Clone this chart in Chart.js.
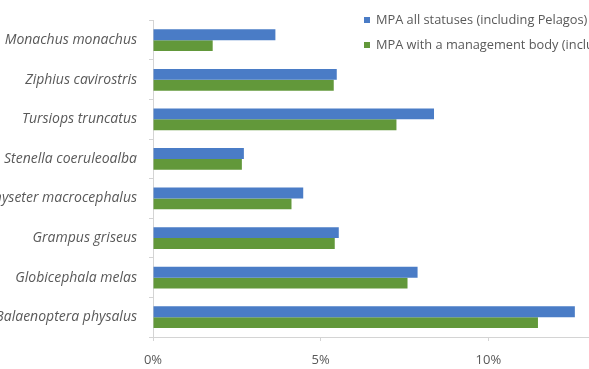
<!DOCTYPE html>
<html>
<head>
<meta charset="utf-8">
<script src="https://cdn.jsdelivr.net/npm/chart.js@4/dist/chart.umd.min.js"></script>
<style>
    html, body { margin: 0; padding: 0; background: #fff; overflow: hidden; }
    #wrap { position: relative; width: 589px; height: 369px; overflow: hidden; }
    canvas { position: absolute; left: 0; top: 0; }
</style>
</head>
<body>
<div id="wrap">
    <canvas id="mpaChart" width="700" height="369"></canvas>
</div>
<script>
// species, top to bottom
const species = [
    'Monachus monachus',
    'Ziphius cavirostris',
    'Tursiops truncatus',
    'Stenella coeruleoalba',
    'Physeter macrocephalus',
    'Grampus griseus',
    'Globicephala melas',
    'Balaenoptera physalus'
];
// share of range covered, in %
const allStatuses = [3.65, 5.48, 8.38, 2.71, 4.48, 5.54, 7.89, 12.58];
const withManagement = [1.78, 5.39, 7.26, 2.65, 4.13, 5.42, 7.59, 11.48];
const seriesNames = [
    'MPA all statuses (including Pelagos)',
    'MPA with a management body (including Pelagos)'
];
const xTicks = [0, 5, 10, 15];

const BLUE = '#4a7cc6';
const GREEN = '#62983a';
const TEXT = '#595959';
const AXIS = '#d4d4d4';
const FONT = '"Open Sans", sans-serif';

// legend sits inside the plot, top right, and runs off the picture
const legendInPlot = {
    id: 'legendInPlot',
    afterDraw(chart) {
        const ctx = chart.ctx;
        ctx.save();
        ctx.font = '12.8px ' + FONT;
        ctx.textBaseline = 'middle';
        chart.data.datasets.forEach((ds, i) => {
            const y = 20 + i * 25;
            ctx.fillStyle = ds.backgroundColor;
            ctx.fillRect(364, y - 3, 6, 6);
            ctx.fillStyle = TEXT;
            ctx.fillText(ds.label, 376, y);
        });
        ctx.restore();
    }
};

new Chart(document.querySelector('#mpaChart'), {
    type: 'bar',
    data: {
        labels: species,
        datasets: [
            {
                label: seriesNames[0],
                data: allStatuses,
                backgroundColor: BLUE,
                categoryPercentage: 0.55,
                barPercentage: 1
            },
            {
                label: seriesNames[1],
                data: withManagement,
                backgroundColor: GREEN,
                categoryPercentage: 0.55,
                barPercentage: 1
            }
        ]
    },
    options: {
        indexAxis: 'y',
        responsive: false,
        animation: false,
        layout: { padding: { top: 14, right: 44, bottom: 0, left: 0 } },
        plugins: {
            legend: { display: false },
            tooltip: { enabled: false }
        },
        scales: {
            x: {
                min: 0,
                max: 15,
                afterBuildTicks: scale => {
                    scale.ticks = xTicks.map(v => ({ value: v }));
                },
                afterFit: scale => { scale.height = 32; },
                border: { color: AXIS },
                grid: {
                    drawOnChartArea: false,
                    color: AXIS,
                    tickLength: 4
                },
                ticks: {
                    color: TEXT,
                    padding: 11,
                    font: { family: FONT, size: 13 },
                    callback: v => v + '%'
                }
            },
            y: {
                afterFit: scale => { scale.width = 153; },
                border: { color: AXIS },
                grid: {
                    drawOnChartArea: false,
                    color: AXIS,
                    tickLength: 4
                },
                ticks: {
                    color: TEXT,
                    padding: 12,
                    font: { family: FONT, size: 14, style: 'italic' }
                }
            }
        }
    },
    plugins: [legendInPlot]
});
</script>
</body>
</html>
